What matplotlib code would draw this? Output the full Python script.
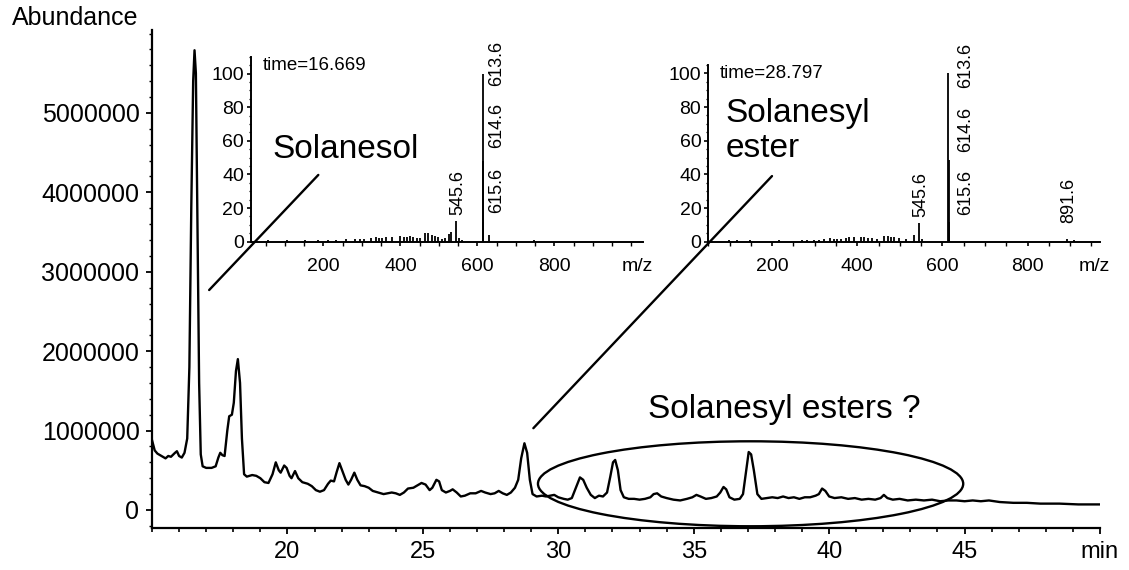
import matplotlib
matplotlib.use("Agg")
import matplotlib.pyplot as plt
from matplotlib.patches import Ellipse, ConnectionPatch
from matplotlib.ticker import MultipleLocator
import numpy as np

plt.rcParams['font.family'] = ['Liberation Sans', 'DejaVu Sans']

# total ion chromatogram, time (min) and abundance (millions of counts)
time_min = [15.0, 15.1, 15.2, 15.35, 15.5, 15.6, 15.7, 15.85, 15.92, 16.0, 16.1, 16.2,
            16.3, 16.38, 16.45, 16.52, 16.57, 16.62, 16.68, 16.74, 16.8, 16.87, 17.0,
            17.2, 17.35, 17.45, 17.52, 17.6, 17.68, 17.78, 17.85, 17.95, 18.02, 18.1,
            18.17, 18.25, 18.32, 18.4, 18.5, 18.7, 18.85, 19.0, 19.15, 19.3, 19.45,
            19.57, 19.68, 19.75, 19.88, 19.97, 20.08, 20.15, 20.28, 20.4, 20.55, 20.75,
            20.9, 21.05, 21.2, 21.35, 21.5, 21.6, 21.72, 21.82, 21.92, 22.02, 22.15,
            22.25, 22.35, 22.47, 22.58, 22.7, 22.85, 23.0, 23.15, 23.35, 23.55, 23.7,
            23.85, 24.0, 24.15, 24.3, 24.45, 24.65, 24.8, 24.95, 25.1, 25.25, 25.35,
            25.5, 25.6, 25.7, 25.85, 26.0, 26.1, 26.25, 26.4, 26.55, 26.75, 26.95,
            27.15, 27.3, 27.5, 27.65, 27.8, 27.95, 28.1, 28.25, 28.4, 28.52, 28.63,
            28.75, 28.85, 28.95, 29.05, 29.2, 29.4, 29.55, 29.7, 29.85, 30.0, 30.2,
            30.35, 30.5, 30.65, 30.8, 30.92, 31.05, 31.2, 31.35, 31.5, 31.65, 31.8,
            31.92, 32.02, 32.1, 32.2, 32.3, 32.42, 32.6, 32.8, 33.0, 33.2, 33.4, 33.52,
            33.65, 33.8, 34.0, 34.25, 34.5, 34.75, 34.95, 35.1, 35.25, 35.45, 35.65,
            35.85, 35.98, 36.1, 36.2, 36.32, 36.5, 36.7, 36.82, 36.92, 37.03, 37.12,
            37.22, 37.35, 37.5, 37.7, 37.9, 38.1, 38.3, 38.5, 38.7, 38.9, 39.1, 39.3,
            39.5, 39.62, 39.74, 39.86, 40.0, 40.2, 40.45, 40.7, 40.95, 41.2, 41.45,
            41.7, 41.9, 42.02, 42.15, 42.35, 42.6, 42.9, 43.2, 43.5, 43.8, 44.1, 44.4,
            44.7, 45.0, 45.3, 45.6, 45.9, 46.3, 46.8, 47.3, 47.8, 48.5, 49.2, 50.0]
abund_m = [0.88, 0.75, 0.71, 0.68, 0.65, 0.68, 0.67, 0.72, 0.74, 0.68, 0.66, 0.72,
           0.9, 1.8, 3.8, 5.4, 5.79, 5.5, 3.6, 1.6, 0.7, 0.55, 0.53,
           0.53, 0.55, 0.66, 0.72, 0.69, 0.68, 1.0, 1.18, 1.2, 1.35, 1.75,
           1.9, 1.6, 0.9, 0.45, 0.42, 0.44, 0.43, 0.40, 0.35, 0.34, 0.45,
           0.6, 0.5, 0.47, 0.56, 0.53, 0.43, 0.40, 0.49, 0.40, 0.35, 0.33,
           0.30, 0.25, 0.23, 0.25, 0.33, 0.37, 0.36, 0.48, 0.59, 0.50, 0.38,
           0.32, 0.38, 0.47, 0.38, 0.31, 0.30, 0.28, 0.24, 0.22, 0.20, 0.21,
           0.22, 0.21, 0.19, 0.22, 0.27, 0.28, 0.31, 0.34, 0.32, 0.25, 0.28,
           0.38, 0.36, 0.25, 0.22, 0.24, 0.26, 0.22, 0.17, 0.18, 0.21, 0.21,
           0.24, 0.22, 0.20, 0.21, 0.24, 0.21, 0.19, 0.22, 0.28, 0.38, 0.65,
           0.84, 0.72, 0.38, 0.20, 0.17, 0.18, 0.17, 0.18, 0.19, 0.16, 0.14,
           0.13, 0.15, 0.28, 0.41, 0.38, 0.28, 0.19, 0.15, 0.18, 0.17, 0.22,
           0.42, 0.60, 0.63, 0.50, 0.25, 0.16, 0.14, 0.14, 0.13, 0.14, 0.16, 0.20,
           0.21, 0.17, 0.15, 0.13, 0.12, 0.14, 0.16, 0.19, 0.17, 0.14, 0.15,
           0.17, 0.22, 0.29, 0.26, 0.16, 0.13, 0.14, 0.20, 0.45, 0.73, 0.70,
           0.50, 0.20, 0.14, 0.15, 0.16, 0.15, 0.17, 0.15, 0.16, 0.14, 0.16, 0.16,
           0.18, 0.20, 0.27, 0.24, 0.17, 0.15, 0.16, 0.14, 0.15, 0.13, 0.14,
           0.13, 0.15, 0.19, 0.15, 0.13, 0.14, 0.12, 0.13, 0.12, 0.13, 0.11, 0.12,
           0.12, 0.11, 0.12, 0.11, 0.12, 0.10, 0.09, 0.09, 0.08, 0.08, 0.07, 0.07]

# mass spectrum at 16.669 min (relative abundance, %)
ms1_mz = [57, 106, 153, 187, 213, 234, 260, 281, 294, 306, 323, 336, 345, 353, 362,
          379, 400, 409, 417, 426, 434, 443, 451, 464, 472, 481, 489, 498, 507, 515,
          525, 531, 545.6, 553, 561, 613.6, 614.6, 615.6, 630, 748]
ms1_int = [0.8, 1.0, 1.0, 1.0, 1.2, 1.0, 1.5, 1.5, 1.5, 1.5, 2.0, 2.5, 2.0, 2.0, 2.5,
           2.5, 3.5, 3.0, 3.0, 3.5, 2.5, 2.0, 2.0, 5.0, 5.0, 4.0, 3.5, 2.5, 1.5, 2.0,
           4.5, 5.5, 12.5, 2.0, 1.0, 100, 48, 12, 4.0, 1.0]

# mass spectrum at 28.797 min
ms2_mz = [98, 118, 149, 216, 271, 282, 298, 310, 322, 337, 345, 353, 361, 373, 380,
          392, 408, 416, 424, 435, 447, 463, 471, 478, 486, 498, 514, 533, 545.6, 553,
          613.6, 614.6, 615.6, 891.6, 910]
ms2_int = [1.0, 0.8, 0.8, 0.8, 1.0, 1.0, 1.0, 1.0, 1.5, 2.0, 1.5, 1.5, 1.5, 2.0, 3.0,
           2.5, 3.0, 3.0, 2.0, 2.0, 1.5, 3.5, 3.5, 3.0, 2.5, 2.0, 1.5, 4.0, 11.0, 1.5,
           100, 48.5, 12, 1.5, 0.8]

x_ticks = [20, 25, 30, 35, 40, 45, 50]
x_ticklabels = ['20', '25', '30', '35', '40', '45', 'min']
y_ticks = [0, 1000000, 2000000, 3000000, 4000000, 5000000]
mz_ticks = [200, 400, 600, 800]
rel_ticks = [0, 20, 40, 60, 80, 100]

W, H = 1129, 570


def px_box(left, top, right, bottom):
    return [left / W, 1 - bottom / H, (right - left) / W, (bottom - top) / H]


fig = plt.figure(figsize=(W / 100, H / 100), dpi=100)

# main chromatogram
ax = fig.add_axes(px_box(152, 30, 1100, 528))
ax.plot(time_min, np.array(abund_m) * 1e6, color='black', lw=1.7,
        solid_joinstyle='round')
ax.set_xlim(15, 50)
ax.set_ylim(-227000, 6045000)
ax.set_xticks(x_ticks)
ax.set_xticklabels(x_ticklabels)
ax.set_yticks(y_ticks)
ax.set_yticklabels([str(v) for v in y_ticks])
ax.xaxis.set_minor_locator(MultipleLocator(1))
ax.yaxis.set_minor_locator(MultipleLocator(200000))
ax.tick_params(axis='x', which='major', direction='out', length=4, width=1.3,
               pad=5, labelsize=17)
ax.tick_params(axis='x', which='minor', direction='out', length=3, width=1.2)
ax.tick_params(axis='y', which='major', direction='out', length=4, width=1.3,
               pad=5, labelsize=18)
ax.tick_params(axis='y', which='minor', direction='out', length=2, width=1.0)
for s in ['top', 'right']:
    ax.spines[s].set_visible(False)
for s in ['left', 'bottom']:
    ax.spines[s].set_linewidth(1.6)
ax.set_facecolor('none')

fig.text(12 / W, 1 - 18 / H, 'Abundance', fontsize=18, va='center', ha='left')

ax.add_patch(Ellipse((37.1, 330000), width=15.7, height=1.07e6, fill=False,
                     lw=1.7, color='black', clip_on=False))
ax.text(33.3, 1.26e6, 'Solanesyl esters ?', fontsize=24, va='center', ha='left')


def spectrum_inset(box, mz, inten, xlim, ytop, title):
    a = fig.add_axes(box)
    a.vlines(mz, 0, inten, color='black', lw=1.3)
    a.set_xlim(*xlim)
    a.set_ylim(0, ytop)
    a.set_xticks(mz_ticks)
    a.set_yticks(rel_ticks)
    a.xaxis.set_minor_locator(MultipleLocator(50))
    a.yaxis.set_minor_locator(MultipleLocator(5))
    a.tick_params(axis='x', which='major', direction='out', length=3, width=1.2,
                  pad=9, labelsize=14)
    a.tick_params(axis='x', which='minor', direction='out', length=3, width=1.0)
    a.tick_params(axis='y', which='major', direction='out', length=3, width=1.2,
                  pad=2, labelsize=14)
    a.tick_params(axis='y', which='minor', direction='out', length=1.5, width=0.9)
    for s in ['top', 'right']:
        a.spines[s].set_visible(False)
    for s in ['left', 'bottom']:
        a.spines[s].set_linewidth(1.4)
    a.set_facecolor('none')
    a.annotate('m/z', xy=(0.985, 0), xycoords='axes fraction', xytext=(0, -12),
               textcoords='offset points', ha='center', va='top', fontsize=14)
    a.text(0.03, 0.95, title, transform=a.transAxes, fontsize=13.5,
           va='center', ha='left')
    return a


ins1 = spectrum_inset(px_box(251, 56.7, 643, 241.7), ms1_mz, ms1_int, (12, 1030),
                      110, 'time=16.669')
ins2 = spectrum_inset(px_box(708.3, 65, 1100, 241.7), ms2_mz, ms2_int, (50, 970),
                      105, 'time=28.797')

rot = dict(rotation=90, ha='center', va='bottom', fontsize=13)
ins1.text(549.7, 15.9, '545.6', **rot)
ins1.text(651, 92.6, '613.6', **rot)
ins1.text(651, 55.7, '614.6', **rot)
ins1.text(651, 17.2, '615.6', **rot)
ins2.text(549.5, 14.9, '545.6', **rot)
ins2.text(655, 91.3, '613.6', **rot)
ins2.text(655, 53.3, '614.6', **rot)
ins2.text(655, 15.9, '615.6', **rot)
ins2.text(897, 11.1, '891.6', **rot)

ins1.text(0.054, 0.50, 'Solanesol', transform=ins1.transAxes, fontsize=24,
          va='center', ha='left')
ins2.text(0.043, 0.625, 'Solanesyl\nester', transform=ins2.transAxes, fontsize=24,
          va='center', ha='left', linespacing=1.15)

# connector lines from the chromatogram peaks to their spectra
for (xa, ya), inset, (xb, yb) in [((17.11, 2.77e6), ins1, (186.8, 39.7)),
                                   ((29.08, 1.03e6), ins2, (199.6, 39.0))]:
    con = ConnectionPatch(xyA=(xa, ya), coordsA=ax.transData,
                          xyB=(xb, yb), coordsB=inset.transData,
                          color='black', lw=1.7)
    fig.add_artist(con)

fig.savefig('out.png', dpi=100)
